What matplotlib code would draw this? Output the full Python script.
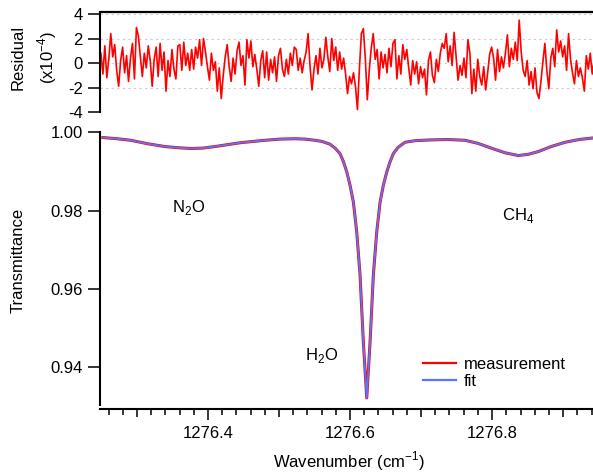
import numpy as np
import matplotlib
matplotlib.use("Agg")
import matplotlib.pyplot as plt
from matplotlib.ticker import FixedLocator, MultipleLocator, FuncFormatter

plt.rcParams['font.family'] = ['Liberation Sans', 'DejaVu Sans']
plt.rcParams['font.size'] = 12
plt.rcParams['mathtext.fontset'] = 'custom'
plt.rcParams['mathtext.rm'] = 'Liberation Sans'

# spectrum (cm-1, transmittance)
wavenumber = [1276.2521, 1276.2718, 1276.2915, 1276.3155, 1276.3394, 1276.3577, 1276.3761,
              1276.3930, 1276.4099, 1276.4282, 1276.4465, 1276.4634, 1276.4803, 1276.5014,
              1276.5225, 1276.5366, 1276.5507, 1276.5606, 1276.5718, 1276.5789, 1276.5859,
              1276.5908, 1276.5954, 1276.6000, 1276.6047, 1276.6094, 1276.6141, 1276.6187,
              1276.6235, 1276.6282, 1276.6328, 1276.6376, 1276.6423, 1276.6469, 1276.6517,
              1276.6563, 1276.6610, 1276.6676, 1276.6775, 1276.6915, 1276.7141, 1276.7380,
              1276.7620, 1276.7803, 1276.7986, 1276.8183, 1276.8366, 1276.8507, 1276.8648,
              1276.8831, 1276.9028, 1276.9225, 1276.9423]
measurement = [0.9987, 0.9984, 0.9980, 0.9971, 0.9964, 0.9961, 0.9959,
               0.9960, 0.9964, 0.9969, 0.9974, 0.9977, 0.9980, 0.9983,
               0.9984, 0.9983, 0.9980, 0.9977, 0.9970, 0.9960, 0.9946,
               0.9925, 0.9899, 0.9865, 0.9822, 0.9746, 0.9635, 0.9465,
               0.9321, 0.9465, 0.9635, 0.9746, 0.9822, 0.9865, 0.9899,
               0.9925, 0.9946, 0.9962, 0.9975, 0.9979, 0.9981, 0.9982,
               0.9980, 0.9972, 0.9960, 0.9948, 0.9941, 0.9944, 0.9951,
               0.9964, 0.9975, 0.9982, 0.9986]
fit = list(measurement)

# residual (x1e-4), evenly sampled across the window
res_start, res_end = 1276.2493, 1276.9437
residual = [
    0.8, -0.9, 1.4, -1.2, 0.3, 2.4, 0.5, 1.5, -0.6, -1.9, 0.2, 1.3, -0.8, 0.6, -1.5,
    0.4, 1.6, -1.3, 2.9, 2.2, 0.5, -1.1, 0.8, -0.4, 1.4, 0.2, -1.9, 0.3, 1.3, -1.1,
    1.6, -0.6, 0.9, -2.3, 0.2, -1.1, 1.1, -0.5, -1.3, 1.4, 1.5, -0.6, 1.7, -0.2, 0.8,
    -0.6, 1.1, -0.5, 1.3,
    0.4, 1.9, -0.2, 2.0, 0.9, -0.3, -1.4, 0.8, -0.6, 0.1, -2.3, -0.4, -2.9, -1.0, 0.5,
    1.5, -0.3, -1.5, 0.4, -0.9, 1.0, 1.7, -0.2, 0.6, -1.8, 1.9, 0.4, 1.8, -0.3, 0.7,
    -0.5, -1.9, 0.2, 1.0, -1.2, 0.9, -1.4, 0.3, -0.8, 0.5, -1.5, 0.6, 1.2, -0.5, -1.1,
    0.3, -0.9, 0.8, -0.2, 1.3,
    1.1, -0.6, 0.4, -0.8, 0.2, 0.9, 2.4, -0.3, -2.2, -0.5, 0.6, -0.9, 1.2, -0.4, 0.3,
    2.1, 0.5, -0.7, 2.0, 0.2, 1.3, -0.6, 0.9, -0.5, 0.4, -0.9, -2.5, -1.1, -1.7, -0.8,
    -1.9, -3.8, -0.5, 2.4, 2.8, 0.4, -3.0, -0.6, 1.2, 2.4, 0.3, 1.1, -1.3, 0.9, -0.4,
    0.7, -0.8, 1.2, -0.3, 1.6,
    1.9, -1.3, 0.6, -0.9, 1.5, 0.3, 1.1, -0.4, -1.8, 0.2, -0.9, 0.1, -1.7, -0.3, -1.2,
    -0.5, -2.6, 0.2, 0.9, -1.0, -1.6, 0.3, -0.7, 0.8, 1.6, 1.2, 2.4, 0.1, 1.4, -0.2,
    2.5, 0.6, -1.4, -0.2, -1.0, 0.4, -1.2, 1.9, 0.8, -2.5, -0.5, -2.3, 0.3, -1.1, -1.8,
    -0.3, -2.2, -0.8, 0.7, 1.3,
    0.4, -1.4, 1.1, -0.7, 0.5, -0.4, 0.8, 2.3, -0.3, 1.2, 0.3, 1.7, 0.2, 3.5, 0.9,
    -0.6, -1.1, 0.2, -1.8, -0.7, -2.1, -0.4, -2.4, -2.9, -1.5, 0.1, 1.6, -0.6, -2.1, 0.4,
    1.2, -0.3, 2.7, 0.9, 1.8, 0.5, 1.4, -0.6, 2.4, 0.3, -0.8, -1.7, 0.2, -1.1, -0.4,
    -1.2, -2.3, 0.6, -0.5, 0.8, -0.9, 0.3]
res_wn = np.linspace(res_start, res_end, len(residual))

x_min, x_max = 1276.248, 1276.942
x_major = [1276.3, 1276.4, 1276.5, 1276.6, 1276.7, 1276.8, 1276.9]

red = '#ff0000'
blue = '#5577ff'

fig = plt.figure(figsize=(5.93, 4.73), dpi=100)
ax_r = fig.add_axes([0.1686, 0.7632, 0.8314, 0.2121])
ax = fig.add_axes([0.1686, 0.1438, 0.8314, 0.5778])

# residual panel
ax_r.plot(res_wn, residual, color=red, lw=1.2)
ax_r.set_xlim(x_min, x_max)
ax_r.set_ylim(-4, 4.19)
ax_r.set_yticks([-4, -2, 0, 2, 4])
ax_r.set_yticklabels(['-4', '-2', '0', '2', '4'])
ax_r.grid(axis='y', color='#cccccc', ls=(0, (2, 3)), lw=0.8)
ax_r.set_axisbelow(True)
ax_r.spines['right'].set_visible(False)
ax_r.spines['bottom'].set_visible(False)
ax_r.spines['left'].set_bounds(-4, 4)
ax_r.spines['left'].set_linewidth(1.5)
ax_r.spines['top'].set_linewidth(1.6)
ax_r.tick_params(axis='x', which='both', bottom=False, labelbottom=False)
ax_r.tick_params(axis='y', direction='out', length=8.3, width=1.1, pad=4)

# main panel
ax.plot(wavenumber, measurement, color=red, lw=2.2, label='measurement')
ax.plot(wavenumber, fit, color=blue, lw=1.3, label='fit')
ax.set_xlim(x_min, x_max)
ax.set_ylim(0.9303, 1.0002)
ax.set_yticks([0.94, 0.96, 0.98, 1.00])
ax.yaxis.set_major_formatter(FuncFormatter(lambda v, p: f"{v:.2f}"))
ax.spines['right'].set_visible(False)
ax.spines['top'].set_visible(False)
ax.spines['left'].set_linewidth(1.5)
ax.spines['bottom'].set_linewidth(1.5)
ax.spines['bottom'].set_position(('outward', 3))
ax.tick_params(axis='y', direction='out', length=8.3, width=1.1, pad=4)

ax.xaxis.set_major_locator(FixedLocator(x_major))
ax.xaxis.set_minor_locator(MultipleLocator(0.02))
ax.xaxis.set_major_formatter(FuncFormatter(
    lambda v, p: f"{v:.1f}" if round(v * 10) % 2 == 0 else ""))
ax.tick_params(axis='x', which='major', direction='out', length=6.0, width=1.1, pad=6)
ax.tick_params(axis='x', which='minor', direction='out', length=4.1, width=1.1)
for tick, loc in zip(ax.xaxis.get_major_ticks(), x_major):
    if round(loc * 10) % 2 == 0:
        tick.tick1line.set_markersize(8.1)

ax.text(1276.3493, 0.97967, 'N$_2$O', ha='left', va='baseline')
ax.text(1276.8141, 0.97756, 'CH$_4$', ha='left', va='baseline')
ax.text(1276.5366, 0.94186, 'H$_2$O', ha='left', va='baseline')

leg = ax.legend(loc='center left', bbox_to_anchor=(0.655, 0.117), frameon=False,
                handlelength=2.0, handletextpad=0.45, labelspacing=0.15,
                borderpad=0, borderaxespad=0)
for line in leg.get_lines():
    line.set_linewidth(1.6)

fig.text(0.589, 0.011, 'Wavenumber (cm$^{-1}$)', ha='center', va='baseline')
fig.text(0.030, 0.450, 'Transmittance', rotation=90, ha='center', va='center')
fig.text(0.030, 0.879, 'Residual', rotation=90, ha='center', va='center')
fig.text(0.079, 0.879, '(x10$^{-4}$)', rotation=90, ha='center', va='center')

fig.savefig('out.png', dpi=100)
